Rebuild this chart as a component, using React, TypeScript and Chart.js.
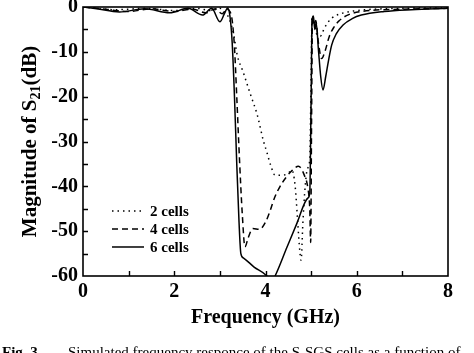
import React, { useEffect, useRef } from 'react';
import { Chart, registerables } from 'chart.js';

Chart.register(...registerables);

// ---- data ----
const freq2 = [0, 0.7, 1.4, 2.0, 2.5, 2.8, 3.0, 3.1, 3.2, 3.3, 3.38, 3.51, 3.66, 3.82, 3.95, 4.03, 4.12, 4.21, 4.39, 4.5, 4.58, 4.65, 4.7, 4.74, 4.78, 4.82, 4.87, 4.92, 4.97, 5.0, 5.02, 5.06, 5.12, 5.2, 5.3, 5.45, 5.65, 6.0, 7.0, 8.0];
const s21_2cells = [0, -0.6, -0.3, -0.8, -0.3, -0.8, -0.3, -1.0, -2.5, -6, -10.7, -14.5, -19.2, -24.1, -29.7, -32.4, -35.5, -37.5, -37.5, -37, -36.4, -40, -47, -53, -56.5, -48, -40, -36, -34, -15, -2, -3, -6, -6.5, -4.5, -2.5, -1.5, -0.8, -0.3, -0.2];

const freq4 = [0, 0.5, 1.0, 1.5, 2.0, 2.4, 2.7, 2.9, 3.05, 3.15, 3.22, 3.27, 3.32, 3.37, 3.43, 3.49, 3.55, 3.62, 3.72, 3.87, 4.0, 4.1, 4.2, 4.32, 4.45, 4.58, 4.72, 4.85, 4.93, 4.97, 4.99, 5.01, 5.03, 5.06, 5.1, 5.16, 5.23, 5.3, 5.4, 5.5, 5.6, 5.8, 6.1, 7.0, 8.0];
const s21_4cells = [0, -0.5, -1.0, -0.4, -1.0, -0.5, -1.3, -0.4, -1.5, -0.5, -1.0, -3, -9, -20, -34, -46, -53.5, -51.5, -49.4, -49.6, -48, -45.5, -42.5, -40, -38, -36.5, -35.5, -37.5, -40.5, -45, -52.5, -25, -2, -4, -3, -8, -11.5, -10, -6.5, -4.5, -3.2, -1.8, -1.0, -0.5, -0.3];

const freq6 = [0, 0.3, 0.8, 1.35, 1.9, 2.3, 2.62, 2.82, 3.0, 3.1, 3.17, 3.22, 3.27, 3.32, 3.37, 3.42, 3.46, 3.52, 3.75, 4.03, 4.12, 4.21, 4.47, 4.69, 4.93, 4.97, 5.0, 5.02, 5.05, 5.08, 5.11, 5.16, 5.21, 5.26, 5.32, 5.38, 5.45, 5.55, 5.7, 5.9, 6.1, 6.6, 7.2, 8.0];
const s21_6cells = [0, -0.4, -1.1, -0.4, -1.3, -0.3, -1.8, -0.3, -3.3, -1.5, -0.2, -2, -8, -20, -35, -48, -55, -56, -58, -60, -61.5, -60, -53.6, -48.2, -42.6, -41.5, -20, -3, -2, -5, -3.5, -9.5, -15.5, -18.5, -15.5, -12, -8.5, -6, -4, -2.6, -1.8, -1.0, -0.6, -0.3];

const seriesLabels = ['2 cells', '4 cells', '6 cells'];
const xMinorTicks = [1, 2, 3, 4, 5, 6, 7];
const yMinorTicks = [-5, -10, -15, -20, -25, -30, -35, -40, -45, -50, -55];
const xTitle = 'Frequency (GHz)';
const yTitleMain = 'Magnitude of S';
const yTitleSub = '21';
const yTitleEnd = '(dB)';
const captionLead = 'Fig. 3';
const captionText = 'Simulated frequency responce of the S-SGS cells as a function of';

const FONT = '"Liberation Serif", "Times New Roman", serif';
const dashes: number[][] = [[1.5, 4], [6, 4], []];

function toPoints(xs: number[], ys: number[]) {
  return xs.map((x, i) => ({ x, y: ys[i] }));
}

const decorPlugin = {
  id: 'decor',
  afterDatasetsDraw(chart: any) {
    const { ctx, chartArea } = chart;
    const { left, right, top, bottom } = chartArea;
    const xs = chart.scales.x;
    const ys = chart.scales.y;
    ctx.save();
    ctx.strokeStyle = '#000';
    ctx.fillStyle = '#000';
    ctx.lineWidth = 1.6;
    ctx.setLineDash([]);
    ctx.strokeRect(left, top, right - left, bottom - top);
    // inward tick marks
    ctx.lineWidth = 1.4;
    ctx.beginPath();
    for (const v of xMinorTicks) {
      const px = Math.round(xs.getPixelForValue(v)) + 0.5;
      ctx.moveTo(px, bottom);
      ctx.lineTo(px, bottom - 5);
    }
    for (const v of yMinorTicks) {
      const py = Math.round(ys.getPixelForValue(v)) + 0.5;
      ctx.moveTo(left, py);
      ctx.lineTo(left + 5, py);
    }
    ctx.stroke();

    // legend
    const lx0 = left + 29;
    const lx1 = left + 61;
    const ly0 = ys.getPixelForValue(-45.5);
    const lstep = 18;
    ctx.font = `bold 15px ${FONT}`;
    ctx.textBaseline = 'middle';
    ctx.textAlign = 'left';
    seriesLabels.forEach((lab, i) => {
      const yy = ly0 + i * lstep;
      ctx.save();
      ctx.lineWidth = 1.5;
      ctx.setLineDash(dashes[i]);
      ctx.beginPath();
      ctx.moveTo(lx0, yy);
      ctx.lineTo(lx1, yy);
      ctx.stroke();
      ctx.restore();
      ctx.fillText(lab, lx1 + 6, yy + 1);
    });

    // x title
    ctx.font = `bold 20px ${FONT}`;
    ctx.textAlign = 'center';
    ctx.textBaseline = 'alphabetic';
    ctx.fillText(xTitle, (left + right) / 2, bottom + 47);

    // y title with subscript
    const bigFont = `bold 21px ${FONT}`;
    const smallFont = `bold 14px ${FONT}`;
    ctx.font = bigFont;
    const w1 = ctx.measureText(yTitleMain).width;
    const w3 = ctx.measureText(yTitleEnd).width;
    ctx.font = smallFont;
    const w2 = ctx.measureText(yTitleSub).width;
    const total = w1 + w2 + w3;
    ctx.translate(36, (top + bottom) / 2);
    ctx.rotate(-Math.PI / 2);
    ctx.textAlign = 'left';
    let cx = -total / 2;
    ctx.font = bigFont;
    ctx.fillText(yTitleMain, cx, 0);
    cx += w1;
    ctx.font = smallFont;
    ctx.fillText(yTitleSub, cx, 4);
    cx += w2;
    ctx.font = bigFont;
    ctx.fillText(yTitleEnd, cx, 0);
    ctx.restore();
  },
};

export default function App() {
  const canvasRef = useRef<HTMLCanvasElement | null>(null);

  useEffect(() => {
    const canvas = canvasRef.current;
    if (!canvas) return;
    const mk = (label: string, xs: number[], ys: number[], dash: number[]) => ({
      label,
      data: toPoints(xs, ys),
      borderColor: '#000',
      backgroundColor: '#000',
      borderWidth: 1.5,
      borderDash: dash,
      pointRadius: 0,
      fill: false,
      cubicInterpolationMode: 'monotone' as const,
    });
    const chart = new Chart(canvas, {
      type: 'line',
      data: {
        datasets: [
          mk(seriesLabels[0], freq2, s21_2cells, dashes[0]),
          mk(seriesLabels[1], freq4, s21_4cells, dashes[1]),
          mk(seriesLabels[2], freq6, s21_6cells, dashes[2]),
        ],
      },
      options: {
        animation: false,
        responsive: false,
        maintainAspectRatio: false,
        devicePixelRatio: 1,
        layout: { padding: { top: 7, right: 26, left: 0, bottom: 0 } },
        plugins: { legend: { display: false }, tooltip: { enabled: false } },
        scales: {
          x: {
            type: 'linear',
            min: 0,
            max: 8,
            grid: { display: false, drawTicks: false },
            border: { display: false },
            ticks: {
              stepSize: 2,
              color: '#000',
              font: { family: FONT, size: 20, weight: 'bold' },
              padding: 4,
              maxRotation: 0,
              autoSkip: false,
            },
            afterFit(s: any) {
              s.height = 77;
              s.paddingLeft = 0;
              s.paddingRight = 0;
            },
          },
          y: {
            type: 'linear',
            min: -60,
            max: 0,
            grid: { display: false, drawTicks: false },
            border: { display: false },
            ticks: {
              stepSize: 10,
              color: '#000',
              font: { family: FONT, size: 20, weight: 'bold' },
              padding: 5,
            },
            afterFit(s: any) {
              s.width = 83;
              s.paddingTop = 0;
              s.paddingBottom = 0;
            },
          },
        },
      },
      plugins: [decorPlugin],
    });
    return () => chart.destroy();
  }, []);

  return (
    <div
      style={{
        position: 'fixed',
        left: 0,
        top: 0,
        width: 474,
        height: 353,
        overflow: 'hidden',
        background: '#fff',
      }}
    >
      <canvas ref={canvasRef} width={474} height={353} style={{ display: 'block', width: 474, height: 353 }} />
      <div
        style={{
          position: 'absolute',
          left: 2,
          top: 344,
          fontFamily: FONT,
          fontSize: 15,
          lineHeight: '16px',
          whiteSpace: 'nowrap',
          color: '#000',
        }}
      >
        <span style={{ fontWeight: 'bold' }}>{captionLead}</span>
      </div>
      <div
        style={{
          position: 'absolute',
          left: 68,
          top: 344,
          fontFamily: FONT,
          fontSize: 15,
          lineHeight: '16px',
          whiteSpace: 'nowrap',
          color: '#000',
        }}
      >
        {captionText}
      </div>
    </div>
  );
}
